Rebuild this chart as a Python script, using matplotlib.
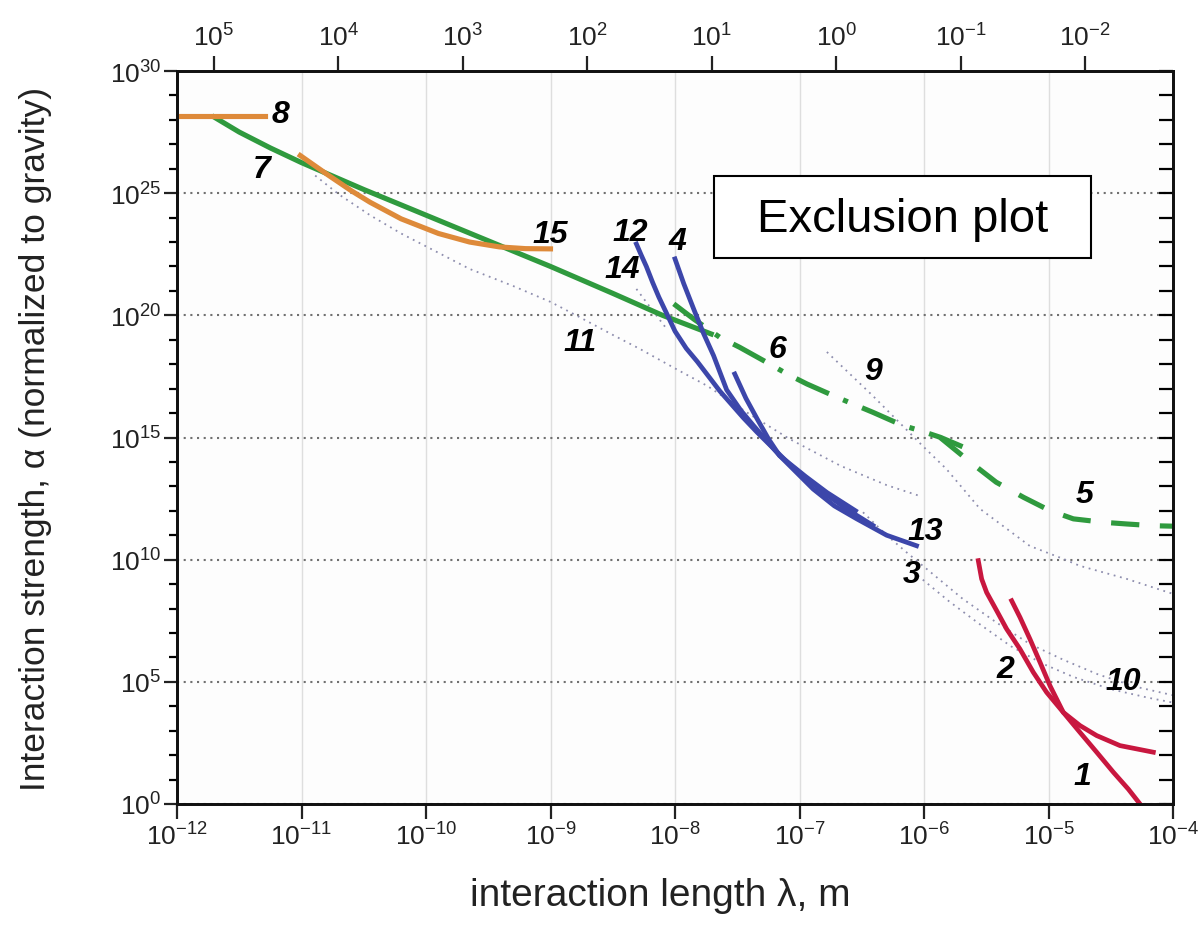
import numpy as np
import matplotlib
matplotlib.use('Agg')
import matplotlib.pyplot as plt
from matplotlib.ticker import FixedLocator, FixedFormatter, NullLocator, NullFormatter
from matplotlib.patches import Rectangle

plt.rcParams['font.family'] = ['Liberation Sans', 'DejaVu Sans']
plt.rcParams['mathtext.fontset'] = 'custom'
plt.rcParams['mathtext.rm'] = 'Liberation Sans'
plt.rcParams['mathtext.it'] = 'Liberation Sans:italic'
plt.rcParams['mathtext.bf'] = 'Liberation Sans:bold'

HBARC = 1.97327e-7  # eV*m, top axis is energy = hbar*c / lambda

# all curves: log10(lambda / m) and log10(alpha)
c1_x = [-5.296, -5.229, -5.149, -5.068, -4.988, -4.881, -4.747, -4.613, -4.479, -4.359, -4.265]
c1_y = [8.32, 7.64, 6.75, 5.80, 4.84, 3.75, 2.93, 2.12, 1.30, 0.61, 0.0]
c2_x = [-5.564, -5.537, -5.497, -5.416, -5.336, -5.229, -5.122, -5.015, -4.881, -4.747, -4.613, -4.426, -4.158]
c2_y = [9.96, 9.21, 8.66, 7.91, 7.16, 6.34, 5.39, 4.57, 3.75, 3.21, 2.80, 2.39, 2.12]
c3_x = [-6.49, -6.30, -6.14, -5.95, -5.69, -5.41, -5.15, -4.88, -4.60, -4.30, -4.00]
c3_y = [11.94, 11.0, 10.3, 9.5, 8.4, 7.4, 6.55, 5.9, 5.3, 4.8, 4.45]
c4_x = [-8.00, -7.93, -7.85, -7.77, -7.69, -7.585, -7.47, -7.37, -7.16, -6.95, -6.78, -6.55]
c4_y = [22.31, 21.3, 20.26, 19.25, 18.35, 16.95, 16.1, 15.49, 14.26, 13.4, 12.75, 12.0]
c5_x = [-5.87, -5.63, -5.42, -5.20, -4.99, -4.80, -4.56, -4.37, -4.16, -4.00]
c5_y = [15.0, 14.0, 13.17, 12.55, 12.01, 11.67, 11.53, 11.46, 11.39, 11.37]
c6_x = [-8.01, -7.85, -7.64, -7.48, -7.24, -7.10, -6.94, -6.70, -6.57, -6.41, -6.17, -6.03, -5.87, -5.68]
c6_y = [20.47, 19.85, 19.10, 18.69, 18.01, 17.60, 17.19, 16.65, 16.37, 16.03, 15.49, 15.28, 15.01, 14.60]
c7_x = [-11.72, -11.5, -11.25, -11.0, -10.5, -10.0, -9.5, -9.0, -8.5, -8.1, -7.69]
c7_y = [28.17, 27.5, 26.85, 26.25, 25.15, 24.1, 23.05, 22.0, 20.9, 20.0, 19.2]
c8_x = [-12.0, -11.29]
c8_y = [28.15, 28.15]
c9_x = [-6.78, -6.41, -6.17, -6.01, -5.82, -5.55, -5.15, -4.88, -4.75, -4.37, -4.00]
c9_y = [18.5, 16.7, 15.47, 14.65, 13.71, 12.08, 10.56, 10.03, 9.75, 9.21, 8.6]
c10_x = [-6.05, -5.80, -5.55, -5.30, -5.05, -4.80, -4.50, -4.20, -4.00]
c10_y = [9.35, 8.3, 7.35, 6.45, 5.75, 5.2, 4.7, 4.35, 4.15]
c11_x = [-10.89, -10.7, -10.45, -10.2, -10.01, -9.65, -9.3, -9.0, -8.79, -8.5, -8.28, -7.99, -7.74, -7.4, -7.08, -6.67, -6.3, -6.03]
c11_y = [25.72, 24.95, 24.1, 23.35, 22.85, 21.9, 21.2, 20.55, 19.99, 19.2, 18.62, 17.8, 17.11, 15.95, 14.94, 13.84, 13.05, 12.6]
c12_x = [-8.31, -8.27, -8.23, -8.18, -8.13, -8.06, -8.0, -7.91, -7.82, -7.64, -7.45, -7.34, -7.08, -6.78, -6.6, -6.41]
c12_y = [22.92, 22.45, 22.0, 21.35, 20.75, 20.0, 19.35, 18.65, 18.1, 16.9, 15.8, 15.21, 13.9, 12.65, 12.0, 11.4]
c13_x = [-7.52, -7.43, -7.34, -7.25, -7.16, -6.89, -6.72, -6.54, -6.30, -6.06]
c13_y = [17.6, 16.6, 15.76, 14.95, 14.26, 12.89, 12.2, 11.67, 11.0, 10.57]
c14_x = [-8.31, -8.17, -8.06]
c14_y = [21.08, 20.13, 19.4]
c15_x = [-11.01, -10.8, -10.6, -10.45, -10.2, -9.9, -9.65, -9.41, -9.2, -9.0]
c15_y = [26.54, 25.79, 25.1, 24.63, 23.95, 23.35, 23.0, 22.8, 22.73, 22.72]

# curve numbers and where they are written (log10 lambda, log10 alpha)
lab_text = ['1', '2', '3', '4', '5', '6', '7', '8', '9', '10', '11', '12', '13', '14', '15']
lab_x = [-4.73, -5.35, -6.10, -7.98, -4.71, -7.18, -11.32, -11.17, -6.41, -4.40, -8.76, -8.36, -5.99, -8.42, -9.0]
lab_y = [1.15, 5.53, 9.41, 23.05, 12.69, 18.62, 25.99, 28.24, 17.72, 5.03, 18.91, 23.42, 11.17, 21.9, 23.33]

x_exp = list(range(-12, -3))
y_major_exp = list(range(0, 31, 5))
y_minor_exp = list(range(0, 31))
top_exp = [5, 4, 3, 2, 1, 0, -1, -2]

GREEN = '#2f9a3e'
ORANGE = '#de8a3a'
BLUE = '#3c46aa'
RED = '#c8173f'
DOTC = '#8e8eae'


def p(x):
    return np.power(10.0, np.array(x))


fig = plt.figure(figsize=(12.02, 9.29), dpi=100)
ax = fig.add_axes([177 / 1202, 124 / 929, 996 / 1202, 733 / 929])
ax.set_facecolor('#fdfdfd')
ax.set_xscale('log')
ax.set_yscale('log')

dot = (0, (1, 2.6))
for cx, cy in [(c3_x, c3_y), (c9_x, c9_y), (c10_x, c10_y), (c11_x, c11_y), (c14_x, c14_y)]:
    ax.plot(p(cx), p(cy), color=DOTC, lw=1.3, ls=dot, zorder=2)

ax.plot(p(c7_x), p(c7_y), color=GREEN, lw=3.7, solid_capstyle='butt', zorder=3)
ax.plot(p(c6_x), p(c6_y), color=GREEN, lw=3.7, ls=(0, (7, 3, 1, 3)), zorder=3)
ax.plot(p(c5_x), p(c5_y), color=GREEN, lw=3.7, ls=(0, (5.5, 4)), zorder=3)
ax.plot(p(c8_x), p(c8_y), color=ORANGE, lw=3.7, zorder=4)
ax.plot(p(c15_x), p(c15_y), color=ORANGE, lw=3.7, zorder=4)
for cx, cy in [(c12_x, c12_y), (c4_x, c4_y), (c13_x, c13_y)]:
    ax.plot(p(cx), p(cy), color=BLUE, lw=3.4, zorder=4)
for cx, cy in [(c1_x, c1_y), (c2_x, c2_y)]:
    ax.plot(p(cx), p(cy), color=RED, lw=3.4, zorder=4)

for t, lx, ly in zip(lab_text, lab_x, lab_y):
    ax.text(10.0 ** lx, 10.0 ** ly, t, fontsize=23, fontweight='bold', style='italic',
            ha='center', va='center', zorder=5)

ax.set_xlim(1e-12, 1e-4)
ax.set_ylim(1, 1e30)

ax.xaxis.set_major_locator(FixedLocator([10.0 ** k for k in x_exp]))
ax.xaxis.set_major_formatter(FixedFormatter(['$10^{%d}$' % k for k in x_exp]))
ax.xaxis.set_minor_locator(NullLocator())
ax.yaxis.set_major_locator(FixedLocator([10.0 ** k for k in y_major_exp]))
ax.yaxis.set_major_formatter(FixedFormatter(['$10^{%d}$' % k for k in y_major_exp]))
ax.yaxis.set_minor_locator(FixedLocator([10.0 ** k for k in y_minor_exp]))
ax.yaxis.set_minor_formatter(NullFormatter())

ax.tick_params(axis='x', which='major', direction='out', length=10.5, width=1.6,
               labelsize=19, pad=3, colors='#222222')
ax.tick_params(axis='y', which='major', direction='out', length=9.5, width=1.6,
               labelsize=19, pad=2, colors='#222222')
ax.tick_params(axis='y', which='minor', direction='out', length=6, width=1.6)

ax.xaxis.grid(True, color='#dedede', lw=1.0)
ax.yaxis.grid(True, which='major', color='#707070', lw=1.5, ls=(0, (1, 2.2)))
ax.set_axisbelow(True)

ax.set_xlabel('interaction length λ, m', fontsize=28, color='#222222')
ax.set_ylabel('Interaction strength, α (normalized to gravity)', fontsize=25.5, color='#222222')
ax.xaxis.set_label_coords(0.485, -0.100)
ax.yaxis.set_label_coords(-0.126, 0.5)

# right side: inward ticks every decade
axr = ax.twinx()
axr.set_yscale('log')
axr.set_ylim(1, 1e30)
axr.yaxis.set_major_locator(FixedLocator([10.0 ** k for k in y_minor_exp]))
axr.yaxis.set_minor_locator(NullLocator())
axr.tick_params(axis='y', direction='in', length=10, width=1.6, labelright=False)

# top side: energy scale
axt = ax.twiny()
axt.set_xscale('log')
axt.set_xlim(HBARC / 1e-12, HBARC / 1e-4)
axt.xaxis.set_major_locator(FixedLocator([10.0 ** k for k in top_exp]))
axt.xaxis.set_major_formatter(FixedFormatter(['$10^{%d}$' % k for k in top_exp]))
axt.xaxis.set_minor_locator(NullLocator())
axt.tick_params(axis='x', direction='out', length=10.5, width=1.6, labelsize=19,
                pad=4, colors='#222222')

for a in (ax, axr, axt):
    for s in a.spines.values():
        s.set_linewidth(1.8)
        s.set_color('#111111')

fig.patches.append(Rectangle((714 / 1202, 1 - 259 / 929), 377 / 1202, 82 / 929,
                             transform=fig.transFigure, facecolor='white',
                             edgecolor='black', lw=1.5, zorder=10))
fig.text(903 / 1202, 1 - 220 / 929, 'Exclusion plot', fontsize=34, ha='center',
         va='center', zorder=11)

fig.savefig('out.png', dpi=100, facecolor='white')
